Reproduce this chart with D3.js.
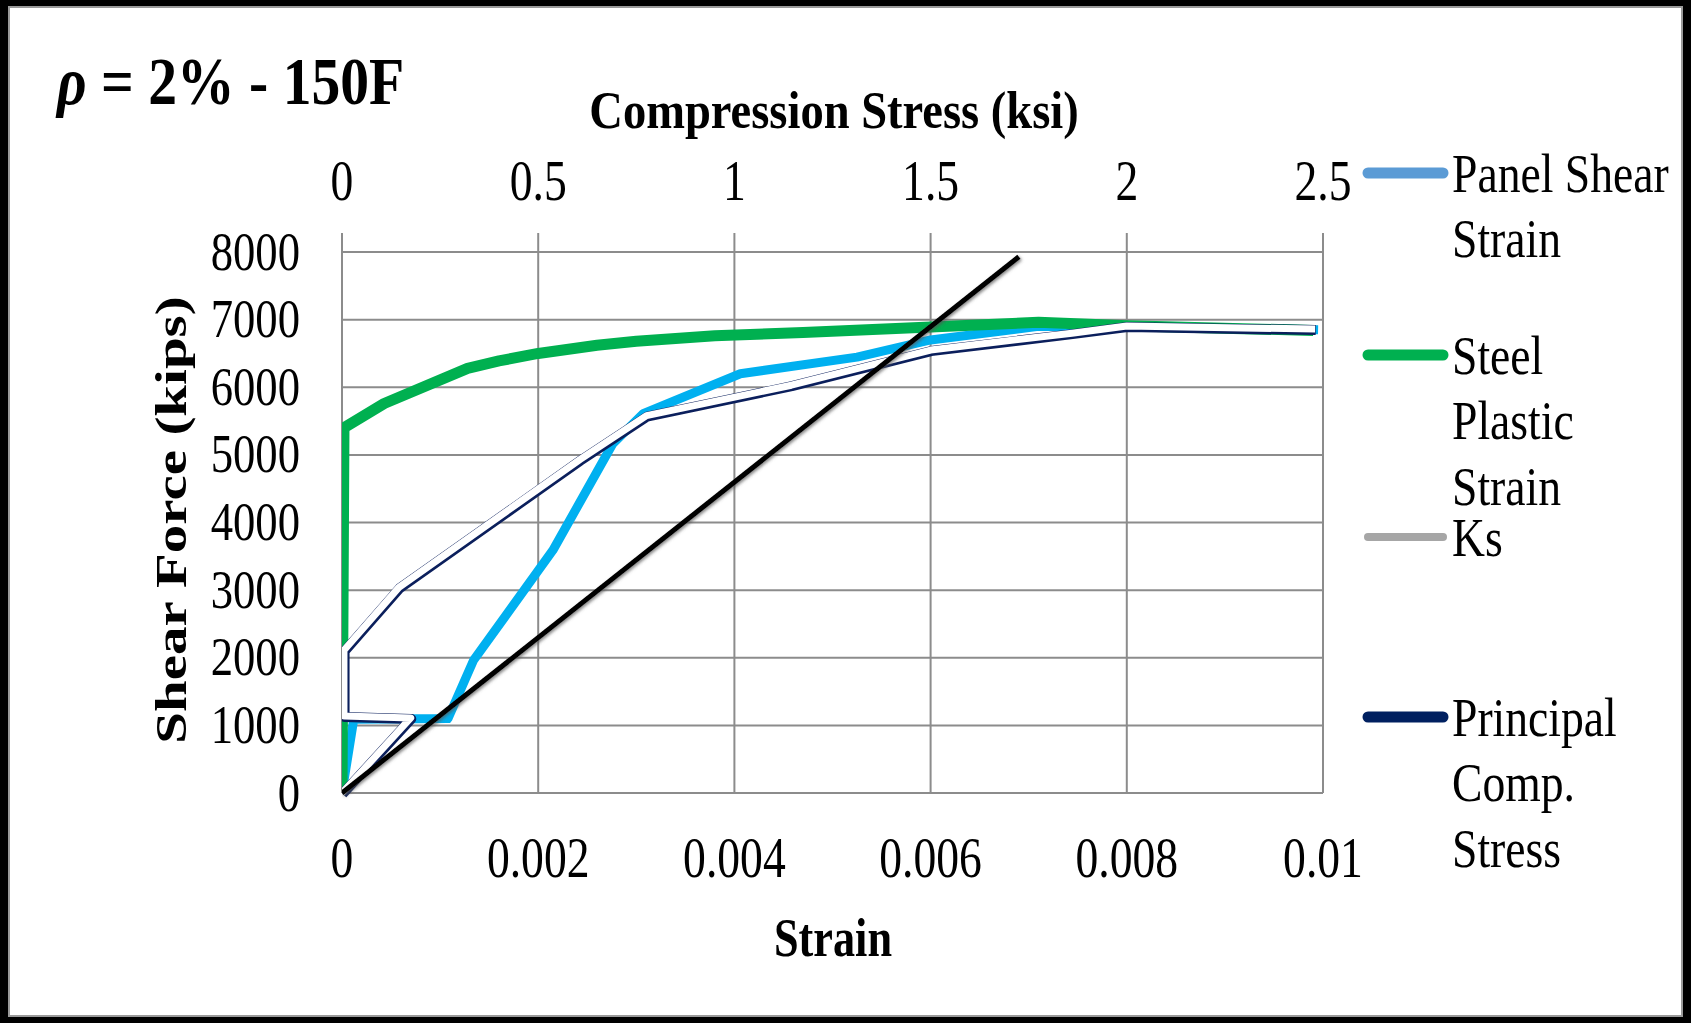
<!DOCTYPE html>
<html>
<head>
<meta charset="utf-8">
<script src="https://cdnjs.cloudflare.com/ajax/libs/d3/7.8.5/d3.min.js"></script>
<style>
  html, body { margin: 0; padding: 0; background: #000; }
  svg { display: block; }
  text { font-family: "Liberation Serif", "Times New Roman", serif; fill: #000; }
</style>
</head>
<body>
<svg id="chart" width="1691" height="1023"></svg>
<script>
// tick values
var strainTicks = [0, 0.002, 0.004, 0.006, 0.008, 0.01];
var stressTicks = [0, 0.5, 1, 1.5, 2, 2.5];
var forceTicks = [0, 1000, 2000, 3000, 4000, 5000, 6000, 7000, 8000];

// series: [strain, kips]
var panelShearStrain = [[0, 0], [0.00012, 1090], [0.00108, 1100], [0.00134, 1960], [0.00215, 3590],
    [0.00276, 5165], [0.00307, 5610], [0.00406, 6200], [0.00525, 6445], [0.006, 6700],
    [0.0071, 6900], [0.008, 6900], [0.00995, 6850]];
var steelPlasticStrain = [[0, 0], [0.00002, 5400], [0.00043, 5760], [0.00128, 6280], [0.0016, 6390],
    [0.002, 6500], [0.0026, 6620], [0.003, 6680], [0.0038, 6760], [0.0047, 6810],
    [0.006, 6890], [0.0071, 6960], [0.008, 6910], [0.0099, 6840]];
var ksLine = [[0, 0], [0.0069, 7930]];
// principal compression stress: [ksi, kips] on the top axis
var principalCompStress = [[0, 0], [0.175, 1110], [0.005, 1140], [0.005, 2110], [0.145, 3040],
    [0.606, 4930], [0.776, 5580], [1.145, 6030], [1.5, 6550], [1.86, 6800], [2.0, 6905], [2.48, 6860]];

var legendItems = [
    {lines: ["Panel Shear", "Strain"], color: "#5B9BD5", w: 11, y: 173},
    {lines: ["Steel", "Plastic", "Strain"], color: "#00B050", w: 11, y: 355},
    {lines: ["Ks"], color: "#A6A6A6", w: 8, y: 537},
    {lines: ["Principal", "Comp.", "Stress"], color: "#002060", w: 11, y: 717}
];

var svg = d3.select("#chart");

// page frame
svg.append("rect").attr("x", 9).attr("y", 7).attr("width", 1673).attr("height", 1009)
    .attr("fill", "#fff").attr("stroke", "#9a9a9a").attr("stroke-width", 2);

var plot = {left: 342, right: 1323, top: 252, bottom: 793};

var x = d3.scaleLinear().domain([0, 0.01]).range([plot.left, plot.right]);
var xTop = d3.scaleLinear().domain([0, 2.5]).range([plot.left, plot.right]);
var y = d3.scaleLinear().domain([0, 8000]).range([plot.bottom, plot.top]);

var defs = svg.append("defs");
defs.append("clipPath").attr("id", "plotClip").append("rect")
    .attr("x", plot.left).attr("y", 0).attr("width", 1000).attr("height", 1023);
var f = defs.append("filter").attr("id", "ksShadow")
    .attr("x", "-10%").attr("y", "-10%").attr("width", "120%").attr("height", "120%");
f.append("feDropShadow").attr("dx", 1.5).attr("dy", 1.5).attr("stdDeviation", 1.6)
    .attr("flood-color", "#555").attr("flood-opacity", 0.7);

// helper for horizontally squeezed text
function label(g, tx, ty, str, size, sx, anchor, weight) {
    return g.append("text")
        .attr("transform", "translate(" + tx + "," + ty + ") scale(" + sx + ",1)")
        .attr("text-anchor", anchor || "middle")
        .style("font-size", size + "px")
        .style("font-weight", weight || "normal")
        .text(str);
}

// gridlines
var grid = svg.append("g").attr("stroke", "#8c8c8c").attr("stroke-width", 2);
grid.selectAll("line.h").data(forceTicks).enter().append("line")
    .attr("x1", plot.left).attr("x2", plot.right)
    .attr("y1", function (d) { return y(d); }).attr("y2", function (d) { return y(d); });
grid.selectAll("line.v").data(strainTicks).enter().append("line")
    .attr("x1", function (d) { return x(d); }).attr("x2", function (d) { return x(d); })
    .attr("y1", plot.top - 19).attr("y2", plot.bottom);

// tick labels
var labels = svg.append("g");
forceTicks.forEach(function (d) {
    label(labels, 300, y(d) + 17.5, d3.format("d")(d), 54.5, 0.82, "end");
});
strainTicks.forEach(function (d) {
    label(labels, x(d), 877, d === 0 ? "0" : String(d), 57, 0.8);
});
stressTicks.forEach(function (d) {
    label(labels, xTop(d), 200, String(d), 57, 0.8);
});

// titles
var t = svg.append("text")
    .attr("transform", "translate(57,104) scale(0.86,1)")
    .style("font-size", "67px").style("font-weight", "bold");
t.append("tspan").style("font-style", "italic").text("ρ");
t.append("tspan").text(" = 2% - 150F");

label(svg, 834, 128, "Compression Stress (ksi)", 52, 0.895, "middle", "bold");
label(svg, 833, 956, "Strain", 54, 0.82, "middle", "bold");
svg.append("text")
    .attr("transform", "translate(186,520) scale(0.78,1) rotate(-90)")
    .attr("text-anchor", "middle")
    .style("font-size", "57px").style("font-weight", "bold")
    .text("Shear Force (kips)");

// series
var lineS = d3.line().x(function (d) { return x(d[0]); }).y(function (d) { return y(d[1]); });
var lineP = d3.line().x(function (d) { return xTop(d[0]); }).y(function (d) { return y(d[1]); });

var series = svg.append("g").attr("clip-path", "url(#plotClip)")
    .attr("fill", "none").attr("stroke-linejoin", "round");

series.append("path").attr("d", lineS(panelShearStrain))
    .attr("stroke", "#00B0F0").attr("stroke-width", 9);
series.append("path").attr("d", lineS(steelPlasticStrain))
    .attr("stroke", "#00B050").attr("stroke-width", 11);
series.append("path").attr("d", lineP(principalCompStress))
    .attr("transform", "translate(0.6,1)")
    .attr("stroke", "#0b1f5c").attr("stroke-width", 10);
series.append("path").attr("d", lineP(principalCompStress))
    .attr("stroke", "#ffffff").attr("stroke-width", 7);
series.append("path").attr("d", lineS(ksLine))
    .attr("stroke", "#000").attr("stroke-width", 5)
    .attr("filter", "url(#ksShadow)");

// legend
var legend = svg.append("g");
legendItems.forEach(function (item) {
    legend.append("line")
        .attr("x1", 1368).attr("x2", 1443).attr("y1", item.y).attr("y2", item.y)
        .attr("stroke", item.color).attr("stroke-width", item.w).attr("stroke-linecap", "round");
    item.lines.forEach(function (s, i) {
        label(legend, 1452, item.y + 18.5 + i * 65.5, s, 55, 0.83, "start");
    });
});
</script>
</body>
</html>
